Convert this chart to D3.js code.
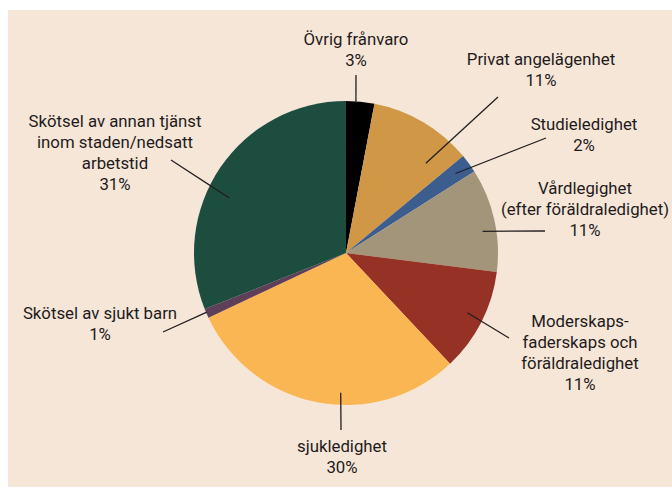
<!DOCTYPE html>
<html>
<head>
<meta charset="utf-8">
<script src="https://cdn.jsdelivr.net/npm/d3@7"></script>
<style>
  body { margin: 0; background: #fff; }
  text { font-family: Roboto, "Liberation Sans", sans-serif; fill: #1f1b1c; }
</style>
</head>
<body>
<svg id="chart" width="672" height="488"></svg>
<script>
// slices, clockwise from 12 o'clock
const categories = [
  "Övrig frånvaro",
  "Privat angelägenhet",
  "Studieledighet",
  "Vårdlegighet",
  "Moderskaps-faderskaps och föräldraledighet",
  "sjukledighet",
  "Skötsel av sjukt barn",
  "Skötsel av annan tjänst inom staden/nedsatt arbetstid",
];
const values = [3, 11, 2, 11, 11, 30, 1, 31];
const labelLines = [
  ["Övrig frånvaro"],
  ["Privat angelägenhet"],
  ["Studieledighet"],
  ["Vårdlegighet", "(efter föräldraledighet)"],
  ["Moderskaps-", "faderskaps och", "föräldraledighet"],
  ["sjukledighet"],
  ["Skötsel av sjukt barn"],
  ["Skötsel av annan tjänst", "inom staden/nedsatt", "arbetstid"],
];
const colors = ["#000000", "#d09746", "#3b5e8e", "#a39579", "#953125", "#fbb654", "#5f3e57", "#1d4d3f"];

// label placement: t = position inside the slice, k = radius factor of leader start,
// (ox, oy) = outer end of leader, (lx, ly) = baseline of first text line
const layout = [
  { t: 0.35, k: 0.99, ox: 356, oy: 75, lx: 356, ly: 45 },
  { t: 0.78, k: 0.79, ox: 498, oy: 97, lx: 541, ly: 65 },
  { t: 0.5, k: 0.89, ox: 546, oy: 138, lx: 584, ly: 130 },
  { t: 0.59, k: 0.91, ox: 545, oy: 231, lx: 585, ly: 194 },
  { t: 0.48, k: 0.89, ox: 509, oy: 338, lx: 580, ly: 327 },
  { t: 0.42, k: 0.92, ox: 341, oy: 430, lx: 342, ly: 452 },
  { t: 0.6, k: 0.995, ox: 163, oy: 332, lx: 100, ly: 319 },
  { t: 0.42, k: 0.85, ox: 171, oy: 160, lx: 115, ly: 127 },
];

const svg = d3.select("#chart");
const cx = 346, cy = 253, r = 152;
const lineH = 21;

svg.append("rect")
  .attr("x", 8).attr("y", 10)
  .attr("width", 664).attr("height", 477)
  .attr("fill", "#f5e6d7");

const pie = d3.pie().sort(null).value((d) => d);
const arcs = pie(values);
const arc = d3.arc().innerRadius(0).outerRadius(r);

const g = svg.append("g").attr("transform", `translate(${cx},${cy})`);

g.selectAll("path")
  .data(arcs)
  .join("path")
  .attr("d", arc)
  .attr("fill", (d, i) => colors[i]);

// leader lines
arcs.forEach((a, i) => {
  const L = layout[i];
  const ang = a.startAngle + L.t * (a.endAngle - a.startAngle);
  const x1 = cx + Math.sin(ang) * r * L.k;
  const y1 = cy - Math.cos(ang) * r * L.k;
  svg.append("line")
    .attr("x1", x1).attr("y1", y1)
    .attr("x2", L.ox).attr("y2", L.oy)
    .attr("stroke", "#231f20")
    .attr("stroke-width", 1.3);
});

// labels
arcs.forEach((a, i) => {
  const L = layout[i];
  const lines = [...labelLines[i], values[i] + "%"];
  const t = svg.append("text")
    .attr("text-anchor", "middle")
    .attr("font-size", 16.8);
  lines.forEach((s, j) => {
    t.append("tspan")
      .attr("x", L.lx)
      .attr("y", L.ly + j * lineH)
      .text(s);
  });
});
</script>
</body>
</html>
